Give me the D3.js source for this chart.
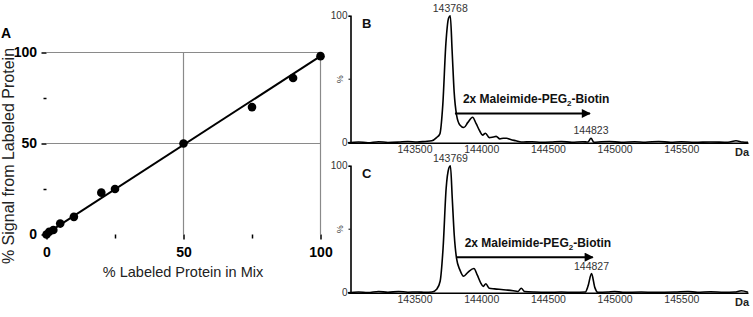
<!DOCTYPE html>
<html>
<head>
  <meta charset="utf-8">
  <script src="https://d3js.org/d3.v7.min.js"></script>
  <style>
  body { margin: 0; background: #fff; }
  * { font-family: Arial, "Liberation Sans", sans-serif; }
  </style>
</head>
<body>
<div id="chart"></div>
<script>
// Panel A: % labeled protein in mix vs % signal
const mixPct    = [0, 1, 2.5, 5, 10, 20, 25, 50, 75, 90, 100];
const signalPct = [0, 1.5, 2.5, 6, 9.7, 23, 25, 50, 70, 86, 98];
const fitLine   = [[0, 0.5], [100, 98]];
const aTicks    = [0, 50, 100];
const aMinor    = [25, 75];

// Panel B spectrum (mass Da, relative %)
const massB = [143000,143080,143150,143230,143300,143380,143450,143520,143580,143630,143665,143690,143712,143735,143755,143768,143782,143797,143815,143840,143870,143900,143935,143962,143990,144010,144032,144060,144090,144112,144140,144165,144190,144220,144260,144300,144380,144450,144520,144600,144680,144760,144800,144823,144845,144900,144960,145050,145150,145230,145330,145420,145500,145600,145720,145850,145910,145960,146000];
const intB  = [0,0.6,0,0.8,0.2,0.5,1,0.5,1,1.5,4,7,30,78,98,100,72,40,22,14,12,16,20,15,9,6,7.5,4,4.5,5,3,3.5,3.5,2.5,1.5,0.5,0.8,0.3,0.5,1,0.3,0.8,0.5,3.5,0.3,0.8,1,0.3,0.8,0.4,1,0.3,0.8,0.3,0.6,0.3,1.5,0.5,0.3];

// Panel C spectrum
const massC = [143000,143080,143150,143230,143300,143380,143450,143520,143580,143630,143668,143692,143714,143737,143757,143769,143783,143798,143815,143840,143868,143900,143945,143970,143995,144015,144035,144060,144100,144150,144200,144240,144275,144300,144325,144400,144500,144600,144700,144780,144800,144827,144852,144875,144950,145000,145060,145200,145300,145450,145550,145620,145720,145820,145900,145950,146000];
const intC  = [0,0.6,0.2,1,0.3,1,0.4,0.6,0.3,0.6,3,9,35,82,98,100,74,45,27,18,13,16,19,14,8,5,7,3.5,3,2.5,2,1.5,1,3.5,1,0.5,0.3,0.5,0.3,0.5,5,15,4,0.3,0.6,1,0.3,0.5,0.3,0.5,1,0.3,0.8,0.3,0.5,1.5,0.3];

const specTicks = [143500, 144000, 144500, 145000, 145500];
const peaksB = [[143768, 100, "143768"], [144823, 3.5, "144823"]];
const peaksC = [[143769, 100, "143769"], [144827, 15, "144827"]];
const arrowB = [143803, 144815, 23];
const arrowC = [143816, 144836, 28];

const svg = d3.select("#chart").append("svg")
  .attr("width", 753).attr("height", 317)
  .style("background", "#fff");

svg.append("defs").append("marker")
  .attr("id", "head")
  .attr("viewBox", "0 0 10 10")
  .attr("refX", 9).attr("refY", 5)
  .attr("markerWidth", 6).attr("markerHeight", 4.5)
  .attr("markerUnits", "strokeWidth")
  .attr("orient", "auto")
  .append("path").attr("d", "M0,0L10,5L0,10Z").attr("fill", "#000");

// ---------- Panel A ----------
const xA = d3.scaleLinear().domain([0, 100]).range([46.5, 320.5]);
const yA = d3.scaleLinear().domain([0, 100]).range([234.5, 52.5]);
const gA = svg.append("g");

// grid (gray)
[50, 100].forEach(function(v) {
  gA.append("line").attr("x1", xA(v)).attr("x2", xA(v)).attr("y1", yA(0)).attr("y2", yA(100))
    .attr("stroke", "#8a8a8a").attr("stroke-width", 1.2);
  gA.append("line").attr("x1", xA(0)).attr("x2", xA(100)).attr("y1", yA(v)).attr("y2", yA(v))
    .attr("stroke", "#8a8a8a").attr("stroke-width", 1.2);
});

// axes
const axA = gA.append("g").attr("transform", `translate(0,${yA(0)})`)
  .call(d3.axisBottom(xA).tickValues(aTicks).tickSize(5).tickFormat(d3.format("d")));
axA.append("g").call(d3.axisBottom(xA).tickValues(aMinor).tickSize(4).tickFormat(""));
const ayA = gA.append("g").attr("transform", `translate(${xA(0)},0)`)
  .call(d3.axisLeft(yA).tickValues(aTicks).tickSize(5).tickFormat(d3.format("d")));
ayA.append("g").call(d3.axisLeft(yA).tickValues(aMinor).tickSize(3).tickFormat(""));
[axA, ayA].forEach(function(a) {
  a.selectAll(".domain").attr("stroke", "#000").attr("stroke-width", 2);
  a.selectAll(".tick line").attr("stroke", "#000").attr("stroke-width", 1.5);
  a.selectAll("text").attr("fill", "#000").style("font-size", "14px").style("font-weight", "bold");
  a.selectAll("g g .domain").remove();
});
axA.selectAll("text").attr("dy", "1.05em");
ayA.selectAll("text").attr("dx", "-0.1em");

// fit line and points
gA.append("path").datum(fitLine)
  .attr("fill", "none").attr("stroke", "#000").attr("stroke-width", 2)
  .attr("d", d3.line().x(d => xA(d[0])).y(d => yA(d[1])));
gA.selectAll("circle").data(mixPct).join("circle")
  .attr("cx", d => xA(d)).attr("cy", (d, i) => yA(signalPct[i]))
  .attr("r", 4.3).attr("fill", "#000");

gA.append("text").attr("x", 183).attr("y", 277).attr("text-anchor", "middle")
  .style("font-size", "14.5px").attr("fill", "#222").text("% Labeled Protein in Mix");
gA.append("text").attr("transform", "translate(14,156) rotate(-90)").attr("text-anchor", "middle")
  .style("font-size", "16px").attr("fill", "#222").text("% Signal from Labeled Protein");
gA.append("text").attr("x", 1).attr("y", 38).style("font-size", "14px")
  .style("font-weight", "bold").text("A");

// ---------- Panels B and C ----------
const xS = d3.scaleLinear().domain([143020, 146000]).range([350.5, 748]);

function spectrum(top, bottom, mass, inten, peaks, arrow, letter) {
  const y = d3.scaleLinear().domain([0, 100]).range([bottom, top]);
  const g = svg.append("g");

  const ax = g.append("g").attr("transform", `translate(0,${bottom})`)
    .call(d3.axisBottom(xS).tickValues(specTicks).tickSize(0).tickPadding(3).tickFormat(d3.format("d")));
  ax.select(".domain").attr("stroke", "#000").attr("stroke-width", 1.6);
  ax.selectAll("text").attr("fill", "#333").style("font-size", "10.5px");

  const ay = g.append("g").attr("transform", `translate(${xS(143020)},0)`)
    .call(d3.axisLeft(y).tickValues([0, 100]).tickSize(2).tickPadding(1));
  ay.select(".domain").attr("stroke", "#000").attr("stroke-width", 1.6);
  ay.selectAll("text").attr("fill", "#333").style("font-size", "10px");
  ay.selectAll(".tick line").attr("stroke", "#000");
  g.append("line").attr("x1", xS(143020) - 2).attr("x2", xS(143020)).attr("y1", y(50)).attr("y2", y(50))
    .attr("stroke", "#000");
  g.append("text").attr("transform", `translate(343,${y(50)}) rotate(-90)`)
    .attr("text-anchor", "middle").style("font-size", "9px").attr("fill", "#333").text("%");

  g.append("text").attr("x", 742).attr("y", bottom + 13).attr("text-anchor", "middle")
    .style("font-size", "11px").style("font-weight", "bold").attr("fill", "#222").text("Da");

  g.append("path").datum(mass)
    .attr("fill", "none").attr("stroke", "#000").attr("stroke-width", 1.6)
    .attr("d", d3.line().x(d => xS(d)).y((d, i) => y(inten[i])).curve(d3.curveMonotoneX));

  g.selectAll(".pk").data(peaks).join("text").attr("class", "pk")
    .attr("x", d => xS(d[0])).attr("y", d => y(d[1]) - 4).attr("text-anchor", "middle")
    .style("font-size", "10.5px").attr("fill", "#333").text(d => d[2]);

  g.append("line").attr("x1", xS(arrow[0])).attr("x2", xS(arrow[1]))
    .attr("y1", y(arrow[2])).attr("y2", y(arrow[2]))
    .attr("stroke", "#000").attr("stroke-width", 2).attr("marker-end", "url(#head)");

  const t = g.append("text").attr("x", xS(arrow[0]) + 8).attr("y", y(arrow[2]) - 10)
    .style("font-size", "12px").style("font-weight", "bold").attr("fill", "#111");
  t.append("tspan").text("2x Maleimide-PEG");
  t.append("tspan").attr("dy", 3).style("font-size", "8px").text("2");
  t.append("tspan").attr("dy", -3).text("-Biotin");

  g.append("text").attr("x", 362).attr("y", top + 12).style("font-size", "13px")
    .style("font-weight", "bold").attr("fill", "#111").text(letter);
}

spectrum(15.7, 142.7, massB, intB, peaksB, arrowB, "B");
spectrum(165.7, 292.7, massC, intC, peaksC, arrowC, "C");
</script>
</body>
</html>
